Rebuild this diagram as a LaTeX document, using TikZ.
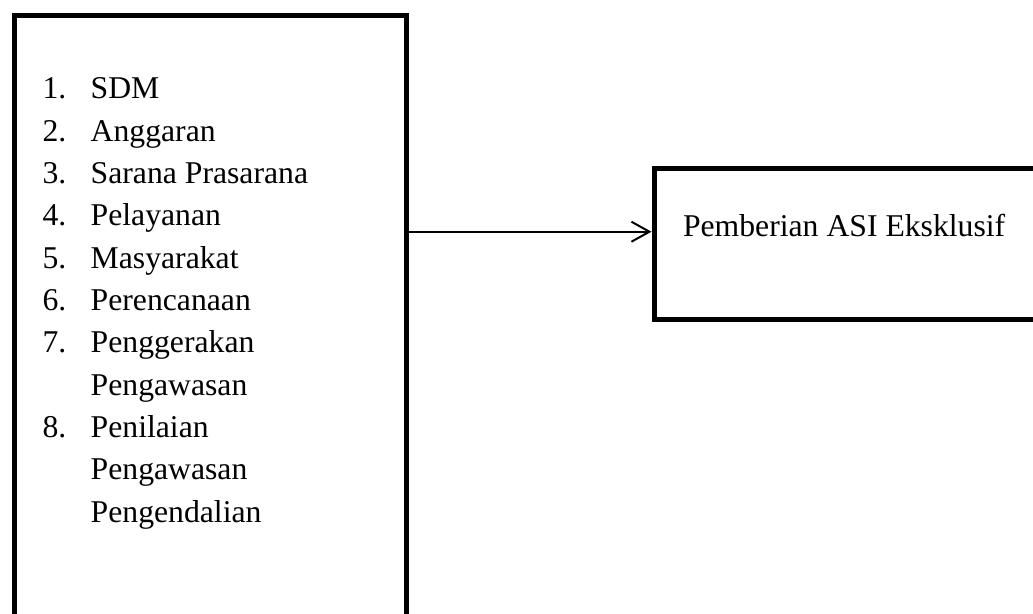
\documentclass[tikz,border=0pt]{standalone}
\usepackage{fontspec}
\setmainfont{Liberation Serif}
\usetikzlibrary{arrows.meta}
\begin{document}
\begin{tikzpicture}[x=1pt,y=-1pt,
  frame/.style={draw=black, line width=5pt, inner sep=0pt, anchor=north west},
  txt/.style={inner sep=0pt, anchor=base west, font=\fontsize{31.7}{38}\selectfont},
  conn/.style={draw=black, line width=2pt, -{Straight Barb[length=18pt,width=20pt,line width=2pt]}}]
\useasboundingbox (0,0) rectangle (1033,613);
\clip (0,0) rectangle (1033,613);
\fill[white] (0,0) rectangle (1033,613);
% boxes
\node[frame, minimum width=392pt, minimum height=700pt] (left) at (11.5,12.75) {};
\node[frame, minimum width=450pt, minimum height=150.7pt] (right) at (651.5,166.3) {};
% list
\node[txt] (n1) at (42.3,98.7) {1.};   \node[txt] (t1) at (90.5,98.7) {SDM};
\node[txt] (n2) at (42.3,141.0) {2.};  \node[txt] (t2) at (90.5,141.0) {Anggaran};
\node[txt] (n3) at (42.3,183.3) {3.};  \node[txt] (t3) at (90.5,183.3) {Sarana Prasarana};
\node[txt] (n4) at (42.3,225.7) {4.};  \node[txt] (t4) at (90.5,225.7) {Pelayanan};
\node[txt] (n5) at (42.3,268.0) {5.};  \node[txt] (t5) at (90.5,268.0) {Masyarakat};
\node[txt] (n6) at (42.3,310.3) {6.};  \node[txt] (t6) at (90.5,310.3) {Perencanaan};
\node[txt] (n7) at (42.3,352.7) {7.};  \node[txt] (t7) at (90.5,352.7) {Penggerakan};
\node[txt] (t7b) at (90.5,395.0) {Pengawasan};
\node[txt] (n8) at (42.3,437.3) {8.};  \node[txt] (t8) at (90.5,437.3) {Penilaian};
\node[txt] (t8b) at (90.5,479.7) {Pengawasan};
\node[txt] (t8c) at (90.5,522.0) {Pengendalian};
% right label
\node[txt] (lbl) at (682.8,236.7) {Pemberian ASI Eksklusif};
% arrow
\coordinate (ay) at (0,231.7);
\draw[conn] (left.east |- ay) -- (right.west |- ay);
\end{tikzpicture}
\end{document}
